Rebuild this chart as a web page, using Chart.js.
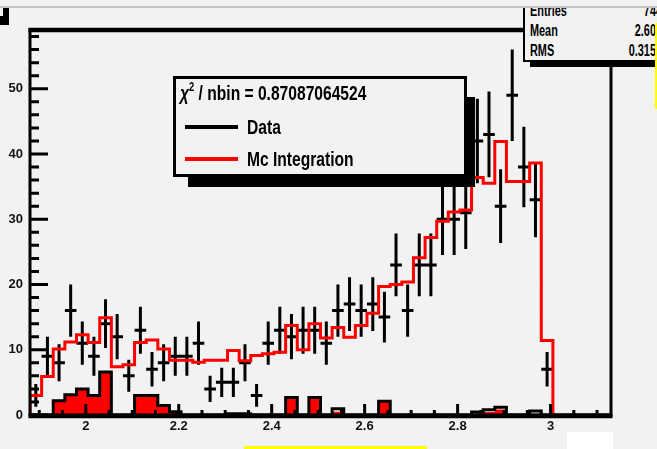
<!DOCTYPE html>
<html>
<head>
<meta charset="utf-8">
<title>Data vs Mc Integration</title>
<script src="https://cdn.jsdelivr.net/npm/chart.js@4.4.1/dist/chart.umd.min.js"></script>
<style>
  html, body { margin: 0; padding: 0; background: #f2f2f2; }
  #pad {
    position: relative; width: 657px; height: 449px; overflow: hidden; background: #f2f2f2;
    font-family: 'Liberation Sans', Arial, sans-serif;
    color: #000;
  }
  #plot { position: absolute; left: 0; top: 0; }
  .blk { position: absolute; background: #000; }
  .txt { position: absolute; white-space: nowrap; }
  #legendBox {
    position: absolute; left: 173px; top: 76px; width: 294px; height: 101px;
    box-sizing: border-box; border: 3px solid #000; background: #f2f2f2;
  }
  .leg { font-size: 20px; font-weight: bold; height: 22px; line-height: 22px;
         transform: scaleX(0.78); transform-origin: left center; }
  .leg sup { font-size: 12px; vertical-align: 9px; line-height: 0; }
  #statsBox {
    position: absolute; left: 523px; top: -10px; width: 145px; height: 72px;
    box-sizing: border-box; border-left: 2px solid #000; border-bottom: 2px solid #000; background: #f2f2f2;
  }
  .st { font-size: 16px; font-weight: bold; height: 18px; line-height: 18px;
        transform: scaleX(0.68); transform-origin: left center; }
  .val { text-align: right; width: 100px; left: 562px; transform-origin: right center; }
</style>
</head>
<body>
<div id="pad">
  <canvas id="plot" width="657" height="449"></canvas>

  <!-- fit legend with its shadow -->
  <div class="blk" style="left:467px; top:97px; width:8px; height:90px;"></div>
  <div class="blk" style="left:188px; top:176px; width:287px; height:11px;"></div>
  <div id="legendBox"></div>
  <div class="txt leg" style="left:180px; top:82px;"><i>χ</i><sup>2</sup> / nbin = 0.87087064524</div>
  <div class="blk" style="left:185px; top:125px; width:53px; height:4px;"></div>
  <div class="txt leg" style="left:247px; top:116px;">Data</div>
  <div class="blk" style="left:185px; top:157px; width:53px; height:4px; background:#ff0000;"></div>
  <div class="txt leg" style="left:247px; top:148px;">Mc Integration</div>

  <!-- statistics box -->
  <div id="statsBox"></div>
  <div class="blk" style="left:530px; top:62px; width:130px; height:5px;"></div>
  <div class="txt st" style="left:530px; top:2px;">Entries</div>
  <div class="txt st val" style="top:2px;">744</div>
  <div class="txt st" style="left:530px; top:22px;">Mean</div>
  <div class="txt st val" style="top:22px;">2.608</div>
  <div class="txt st" style="left:530px; top:42px;">RMS</div>
  <div class="txt st val" style="top:42px;">0.3152</div>

  <!-- window edges -->
  <div style="position:absolute; left:0; top:0; width:657px; height:6px; background:#f2f2f2; border-bottom:2px solid #c4c4c4;"></div>
  <div class="blk" style="left:0; top:8px; width:9px; height:17px;"></div>
  <div style="position:absolute; left:0; top:8px; width:3px; height:8px; background:#f2f2f2;"></div>
  <div style="position:absolute; left:655px; top:23px; width:2px; height:86px; background:#ffff00;"></div>
  <div style="position:absolute; left:244px; top:446px; width:183px; height:3px; background:#ffff00;"></div>
  <div style="position:absolute; left:567px; top:432px; width:46px; height:17px; background:#ffffff;"></div>
</div>

<script>
// Histogram binning (50 bins of 0.025)
const binEdges = [
  1.88, 1.905, 1.93, 1.955, 1.98, 2.005, 2.03, 2.055, 2.08, 2.105,
  2.13, 2.155, 2.18, 2.205, 2.23, 2.255, 2.28, 2.305, 2.33, 2.355,
  2.38, 2.405, 2.43, 2.455, 2.48, 2.505, 2.53, 2.555, 2.58, 2.605,
  2.63, 2.655, 2.68, 2.705, 2.73, 2.755, 2.78, 2.805, 2.83, 2.855,
  2.88, 2.905, 2.93, 2.955, 2.98, 3.005, 3.03, 3.055, 3.08, 3.105,
  3.13
];

// Measured counts per bin
const dataCounts = [
  3, 9, 8, 16, 11, 9, 14, 12, 6, 13,
  7, 8, 9, 9, 11, 4, 5, 5, 8, 3,
  11, 13, 12, 13, 13, 11, 16, 17, 16, 17,
  15, 23, 16, 23, 23, 30, 30, 31, 42, 43,
  32, 49, 38, 33, 7, 0, 0, 0, 0, 0
];

// Monte Carlo integration prediction per bin
const mcIntegration = [
  3.0, 5.9, 10.1, 11.2, 12.3, 11.1, 14.9, 7.4, 7.7, 11.1,
  11.5, 10.1, 8.4, 8.4, 8.1, 8.4, 8.4, 9.9, 8.3, 9.1,
  9.4, 9.6, 13.7, 10.0, 14.0, 11.8, 13.4, 11.9, 13.7, 15.6,
  19.7, 20.0, 20.4, 24.1, 27.2, 29.7, 31.1, 31.4, 36.4, 35.5,
  41.9, 35.8, 35.8, 38.6, 11.4, 0, 0, 0, 0, 0
];

// Small histogram along the baseline: outline and filled part
const lowHistOutline = [
  0, 0, 2.2, 3.1, 4.0, 3.0, 6.6, 0, 0, 3.0,
  3.0, 1.45, 0.5, 0, 0, 0, 0, 0.2, 0.2, 0,
  0, 0, 2.7, 0, 2.7, 0, 0.95, 0, 0, 0,
  2.1, 0, 0, 0, 0, 0, 0, 0, 0.45, 0.8,
  1.2, 0, 0, 0.6, 0, 0, 0, 0, 0, 0
];
const lowHistFill = [
  0, 0, 2.2, 3.1, 4.0, 3.0, 6.6, 0, 0, 3.0,
  3.0, 1.45, 0.3, 0, 0, 0, 0, 0, 0, 0,
  0, 0, 2.7, 0, 2.7, 0, 0.5, 0, 0, 0,
  2.1, 0, 0, 0, 0, 0, 0, 0, 0.2, 0.45,
  0.85, 0, 0, 0.2, 0, 0, 0, 0, 0, 0
];

// Axis tick values and labels
const xMajorTicks = [2, 2.2, 2.4, 2.6, 2.8, 3];
const xTickLabels = ['2', '2.2', '2.4', '2.6', '2.8', '3'];
const yMajorTicks = [0, 10, 20, 30, 40, 50];
const yTickLabels = ['0', '10', '20', '30', '40', '50'];
const yMax = 59;

const FONT = "'Liberation Sans', Arial, sans-serif";

// Step outline of a histogram: up from zero at the first edge, across every bin, back to zero.
function histOutline(values, stopAtLastFilled) {
  let last = values.length - 1;
  if (stopAtLastFilled) while (last > 0 && values[last] === 0) last--;
  const pts = [{ x: binEdges[0], y: 0 }];
  for (let k = 0; k <= last; k++) {
    pts.push({ x: binEdges[k], y: values[k] }, { x: binEdges[k + 1], y: values[k] });
  }
  pts.push({ x: binEdges[last + 1], y: 0 });
  return pts;
}

// Error crosses: sqrt(N) vertical bar plus a horizontal bar across the bin.
function errorCrosses(counts) {
  const pts = [];
  counts.forEach((n, k) => {
    if (n <= 0) return;
    const lo = binEdges[k], hi = binEdges[k + 1], c = (lo + hi) / 2, e = Math.sqrt(n);
    pts.push({ x: c, y: n - e }, { x: c, y: n + e }, { x: c, y: null },
             { x: lo, y: n }, { x: hi, y: n }, { x: hi, y: null });
  });
  return pts;
}

// Frame and inward tick marks
const frameAndTicks = {
  id: 'frameAndTicks',
  afterDatasetsDraw(chart) {
    const { ctx, chartArea: a, scales: { x, y } } = chart;
    ctx.save();
    ctx.strokeStyle = '#000';
    ctx.lineCap = 'butt';
    ctx.lineWidth = 3;
    ctx.beginPath();
    for (let k = 38; k <= 62; k++) {
      const v = k * 0.05;
      const major = xMajorTicks.some(t => Math.abs(t - v) < 1e-6);
      const px = x.getPixelForValue(v);
      ctx.moveTo(px, a.bottom);
      ctx.lineTo(px, a.bottom - (major ? 11 : 5));
    }
    for (let v = 0; v < yMax; v += 2) {
      const major = yMajorTicks.includes(v);
      const py = y.getPixelForValue(v);
      ctx.moveTo(a.left, py);
      ctx.lineTo(a.left + (major ? 18 : 9), py);
    }
    ctx.stroke();
    ctx.lineWidth = 3;
    ctx.strokeRect(a.left, a.top, a.right - a.left, a.bottom - a.top);
    ctx.lineWidth = 4.5;
    ctx.beginPath();
    ctx.moveTo(a.left - 1.5, a.top); ctx.lineTo(a.right + 1.5, a.top);
    ctx.moveTo(a.left - 1.5, a.bottom + 1); ctx.lineTo(a.right + 1.5, a.bottom + 1);
    ctx.stroke();
    ctx.restore();
  }
};

const tickFont = { family: FONT, size: 13, weight: 'bold' };

new Chart(document.getElementById('plot'), {
  type: 'line',
  data: {
    datasets: [
      { label: 'Mc Integration', data: histOutline(mcIntegration, true),
        borderColor: '#ff0000', borderWidth: 3, fill: false, order: 0 },
      { label: 'Data', data: errorCrosses(dataCounts),
        borderColor: '#000000', borderWidth: 3, borderCapStyle: 'butt', fill: false, order: 1 },
      { label: 'outline', data: histOutline(lowHistOutline, false),
        borderColor: '#000000', borderWidth: 3, fill: false, order: 2 },
      { label: 'fill', data: histOutline(lowHistFill, false),
        borderColor: 'rgba(0,0,0,0)', borderWidth: 1, backgroundColor: '#ff0000', fill: 'origin', order: 3 }
    ]
  },
  options: {
    responsive: false,
    animation: false,
    devicePixelRatio: 1,
    events: [],
    layout: { padding: { left: 0, top: 30, right: 46, bottom: 0 } },
    elements: { point: { radius: 0, hoverRadius: 0 }, line: { tension: 0 } },
    plugins: { legend: { display: false }, tooltip: { enabled: false } },
    scales: {
      x: {
        type: 'linear',
        min: binEdges[0],
        max: binEdges[binEdges.length - 1],
        grid: { display: false, drawTicks: false },
        border: { display: false },
        afterBuildTicks: s => { s.ticks = xMajorTicks.map(v => ({ value: v })); },
        afterFit: s => { s.height = 34; },
        ticks: { autoSkip: false, maxRotation: 0, padding: 4, color: '#111', font: tickFont,
                 callback: (v, i) => xTickLabels[i] }
      },
      y: {
        type: 'linear',
        min: 0,
        max: yMax,
        grid: { display: false, drawTicks: false },
        border: { display: false },
        afterBuildTicks: s => { s.ticks = yMajorTicks.map(v => ({ value: v })); },
        afterFit: s => { s.width = 30; },
        ticks: { autoSkip: false, padding: 7, color: '#111', font: tickFont,
                 callback: (v, i) => yTickLabels[i] }
      }
    }
  },
  plugins: [frameAndTicks]
});
</script>
</body>
</html>
